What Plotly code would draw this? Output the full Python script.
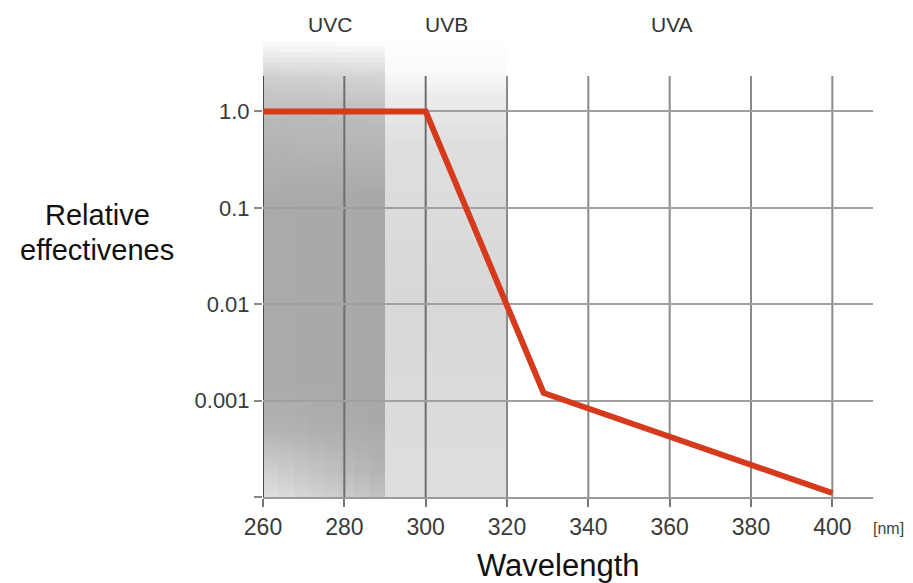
import plotly.graph_objects as go

# ---- data ----
wavelength = [260, 300, 329, 400]
effectiveness = [1.0, 1.0, 0.0012, 0.00011]

x_ticks = [260, 280, 300, 320, 340, 360, 380, 400]
y_ticks = [1.0, 0.1, 0.01, 0.001, 0.0001]
y_tick_labels = ["1.0", "0.1", "0.01", "0.001", ""]

bands = ["UVC", "UVB", "UVA"]
band_label_x = [276.5, 305, 360.5]

# ---- layout geometry (window pixels) ----
OFF = 8  # page body margin
W, H = 913 - OFF, 583 - OFF
ML, MR, MT, MB = 263 - OFF, 40, 42 - OFF, 86
PH = H - MT - MB
PW = W - ML - MR


def py(pix):  # window pixel y -> paper fraction
    return (H - MB - (pix - OFF)) / PH


def px(pix):
    return ((pix - OFF) - ML) / PW


FONT = "Liberation Sans, Arial, Helvetica, sans-serif"

fig = go.Figure()
fig.add_trace(go.Scatter(
    x=wavelength, y=effectiveness, mode="lines",
    line=dict(color="#d63a1d", width=6),
    hoverinfo="skip", showlegend=False,
))

shapes = []


def interp(stops, v):
    for (a, ca), (b, cb) in zip(stops, stops[1:]):
        if a <= v <= b:
            t = (v - a) / (b - a) if b > a else 0
            return ca + (cb - ca) * t
    return stops[-1][1] if v > stops[-1][0] else stops[0][1]


# gray shading stops: (window pixel y, gray level)
uvc_left = [(40, 255), (55, 235), (80, 205), (120, 185), (200, 170), (380, 170), (430, 180), (470, 208), (497, 225)]
uvc_right = [(40, 255), (55, 238), (80, 210), (120, 188), (200, 168), (420, 168), (470, 178), (497, 192)]
uvb = [(40, 255), (70, 250), (100, 235), (150, 222), (300, 216), (497, 222)]

N = 90
top_pix, bot_pix = 42, 497
step = (bot_pix - top_pix) / N
NC = 8
for c in range(NC):
    x0 = 260 + 30 * c / NC
    x1 = 260 + 30 * (c + 1) / NC + 0.15
    f = (c + 0.5) / NC
    for i in range(N):
        p0 = top_pix + i * step
        p1 = p0 + step
        m = (p0 + p1) / 2
        g = int(round((1 - f) * interp(uvc_left, m) + f * interp(uvc_right, m)))
        shapes.append(dict(
            type="rect", xref="x", yref="paper", x0=x0, x1=x1,
            y0=py(p1 + 0.8), y1=py(p0), fillcolor=f"rgb({g},{g},{g})",
            line=dict(width=0), layer="below",
        ))
for i in range(N):
    p0 = top_pix + i * step
    p1 = p0 + step
    g = int(round(interp(uvb, (p0 + p1) / 2)))
    shapes.append(dict(
        type="rect", xref="x", yref="paper", x0=290, x1=320,
        y0=py(p1 + 0.8), y1=py(p0), fillcolor=f"rgb({g},{g},{g})",
        line=dict(width=0), layer="below",
    ))

# vertical grid lines
for xv in x_ticks:
    color = "#4a4a4a" if xv == 260 else ("#6e6e6e" if xv < 320 else "#8a8a8a")
    shapes.append(dict(
        type="line", xref="x", yref="paper", x0=xv, x1=xv,
        y0=0, y1=py(76), line=dict(color=color, width=2), layer="between",
    ))

annotations = []
for name, xv in zip(bands, band_label_x):
    annotations.append(dict(
        text=name, x=xv, xref="x", y=py(25), yref="paper",
        showarrow=False, font=dict(family=FONT, size=21, color="#333333"),
        xanchor="center", yanchor="middle",
    ))
annotations.append(dict(
    text="[nm]", x=px(888), xref="paper", y=py(528), yref="paper",
    showarrow=False, font=dict(family=FONT, size=16, color="#444444"),
    xanchor="center", yanchor="middle",
))
annotations.append(dict(
    text="Wavelength", x=px(558), xref="paper", y=py(565), yref="paper",
    showarrow=False, font=dict(family=FONT, size=31, color="#111111"),
    xanchor="center", yanchor="middle",
))
annotations.append(dict(
    text="Relative", x=px(97.5), xref="paper", y=py(215), yref="paper",
    showarrow=False, font=dict(family=FONT, size=29, color="#111111"),
    xanchor="center", yanchor="middle",
))
annotations.append(dict(
    text="effectivenes", x=px(97), xref="paper", y=py(250), yref="paper",
    showarrow=False, font=dict(family=FONT, size=29, color="#111111"),
    xanchor="center", yanchor="middle",
))

fig.update_layout(
    width=W, height=H,
    margin=dict(l=ML, r=MR, t=MT, b=MB, pad=0),
    paper_bgcolor="white", plot_bgcolor="white",
    shapes=shapes, annotations=annotations,
    xaxis=dict(
        range=[260, 410], tickvals=x_ticks, ticktext=[str(v) for v in x_ticks],
        showgrid=False, zeroline=False,
        showline=True, linecolor="#9a9a9a", linewidth=2,
        ticks="outside", ticklen=8, tickwidth=2, tickcolor="#777777",
        tickfont=dict(family=FONT, size=23, color="#3a3a3a"),
    ),
    yaxis=dict(
        type="log", range=[-4, 0.72], tickvals=y_ticks, ticktext=y_tick_labels,
        showgrid=True, gridcolor="#a0a0a0", gridwidth=2,
        zeroline=False, showline=False,
        ticks="outside", ticklen=8, tickwidth=2, tickcolor="#888888",
        tickfont=dict(family=FONT, size=22, color="#3a3a3a"),
    ),
    showlegend=False,
)

fig.write_html("out.html")
